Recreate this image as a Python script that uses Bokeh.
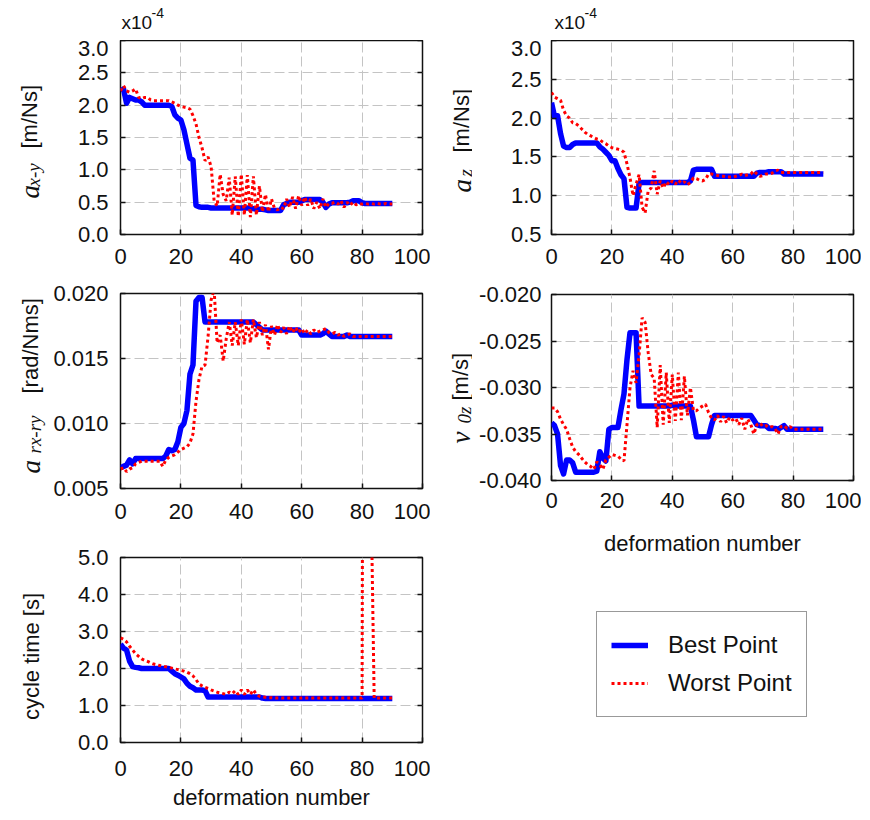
from math import pi
from bokeh.plotting import figure
from bokeh.layouts import column, row
from bokeh.models import (Range1d, FixedTicker, LinearAxis, Label, Legend, LegendItem,
                          NumeralTickFormatter, CustomJSTickFormatter)
from bokeh.embed import file_html
from bokeh.resources import INLINE

# ---------------- data ----------------
deformation = list(range(91))

# a_x-y  (x 1e-4 m/Ns)
best_axy = [2.22, 2.25, 2.03, 2.12, 2.10, 2.08, 2.08, 2.05, 2.00, 2.00,
            2.00, 2.00, 2.00, 2.00, 2.00, 2.00, 2.00, 1.98, 1.85, 1.80,
            1.77, 1.62, 1.40, 1.18, 1.15, 0.45, 0.43, 0.42, 0.42, 0.42,
            0.41, 0.41, 0.41, 0.41, 0.41, 0.41, 0.41, 0.41, 0.41, 0.41,
            0.41, 0.41, 0.41, 0.41, 0.40, 0.39, 0.39, 0.39, 0.38, 0.37,
            0.37, 0.37, 0.37, 0.37, 0.46, 0.48, 0.50, 0.50, 0.50, 0.50,
            0.52, 0.54, 0.54, 0.54, 0.54, 0.54, 0.54, 0.50, 0.42, 0.47,
            0.49, 0.49, 0.49, 0.49, 0.49, 0.49, 0.50, 0.52, 0.52, 0.52,
            0.49, 0.48, 0.48, 0.48, 0.48, 0.48, 0.48, 0.48, 0.48, 0.48, 0.48]
worst_axy = [2.22, 2.30, 2.22, 2.20, 2.22, 2.25, 2.12, 2.10, 2.12, 2.12,
             2.08, 2.07, 2.07, 2.07, 2.07, 2.07, 2.07, 2.05, 2.03, 2.00,
             1.98, 1.97, 1.96, 1.94, 1.84, 1.71, 1.50, 1.34, 1.14, 1.20,
             1.05, 0.52, 0.44, 0.93, 0.62, 0.52, 0.88, 0.30, 0.90, 0.28,
             0.93, 0.30, 0.92, 0.27, 0.90, 0.30, 0.75, 0.35, 0.62, 0.35,
             0.55, 0.40, 0.38, 0.42, 0.40, 0.55, 0.42, 0.58, 0.40, 0.60,
             0.45, 0.58, 0.45, 0.55, 0.40, 0.50, 0.40, 0.55, 0.42, 0.48,
             0.48, 0.50, 0.47, 0.52, 0.42, 0.50, 0.45, 0.50, 0.46, 0.48,
             0.47, 0.48, 0.47, 0.48, 0.47, 0.48, 0.47, 0.47, 0.48, 0.47, 0.47]

# a_z  (x 1e-4 m/Ns)
best_az = [2.20, 2.02, 2.03, 1.80, 1.64, 1.62, 1.62, 1.66, 1.68, 1.68,
           1.68, 1.68, 1.68, 1.68, 1.68, 1.68, 1.63, 1.60, 1.56, 1.52,
           1.45, 1.45, 1.35, 1.27, 1.22, 0.85, 0.84, 0.84, 0.84, 1.16,
           1.17, 1.17, 1.17, 1.17, 1.17, 1.17, 1.17, 1.17, 1.17, 1.17,
           1.17, 1.17, 1.17, 1.17, 1.17, 1.17, 1.19, 1.33, 1.34, 1.34,
           1.34, 1.34, 1.34, 1.34, 1.25, 1.25, 1.25, 1.25, 1.25, 1.25,
           1.25, 1.25, 1.25, 1.25, 1.25, 1.25, 1.25, 1.25, 1.29, 1.30,
           1.30, 1.30, 1.31, 1.31, 1.31, 1.31, 1.31, 1.28, 1.28, 1.28,
           1.28, 1.28, 1.28, 1.28, 1.28, 1.28, 1.28, 1.28, 1.28, 1.28, 1.28]
worst_az = [2.33, 2.27, 2.25, 2.23, 2.10, 2.03, 2.00, 1.94, 1.93, 1.90,
            1.86, 1.82, 1.79, 1.77, 1.75, 1.73, 1.72, 1.69, 1.67, 1.64,
            1.62, 1.61, 1.60, 1.59, 1.56, 1.41, 1.23, 1.00, 1.15, 1.27,
            0.85, 0.78, 1.06, 1.10, 1.32, 1.02, 1.19, 1.10, 1.18, 1.14,
            1.19, 1.15, 1.20, 1.16, 1.18, 1.14, 1.17, 1.23, 1.22, 1.20,
            1.19, 1.21, 1.28, 1.28, 1.27, 1.26, 1.25, 1.25, 1.24, 1.24,
            1.24, 1.25, 1.26, 1.28, 1.26, 1.27, 1.28, 1.32, 1.28, 1.25,
            1.26, 1.28, 1.28, 1.29, 1.32, 1.33, 1.30, 1.30, 1.30, 1.30,
            1.30, 1.30, 1.30, 1.30, 1.30, 1.30, 1.30, 1.30, 1.30, 1.30, 1.30]

# a_rx-ry  (rad/Nms)
best_arx = [0.0066, 0.0067, 0.0068, 0.0072, 0.0069, 0.0073, 0.0073, 0.0073, 0.0073, 0.0073,
            0.0073, 0.0073, 0.0073, 0.0073, 0.0073, 0.0075, 0.0080, 0.0079, 0.0080, 0.0086,
            0.0097, 0.0100, 0.0110, 0.0138, 0.0145, 0.0194, 0.0197, 0.0197, 0.0178, 0.0178,
            0.0178, 0.0178, 0.0178, 0.0178, 0.0178, 0.0178, 0.0178, 0.0178, 0.0178, 0.0178,
            0.0178, 0.0178, 0.0178, 0.0178, 0.0178, 0.0176, 0.0174, 0.0172, 0.0172, 0.0172,
            0.0172, 0.0172, 0.0172, 0.0172, 0.0172, 0.0172, 0.0172, 0.0172, 0.0172, 0.0172,
            0.0168, 0.0168, 0.0168, 0.0168, 0.0168, 0.0168, 0.0168, 0.0169, 0.0171, 0.0169,
            0.0167, 0.0167, 0.0167, 0.0167, 0.0167, 0.0168, 0.0167, 0.0167, 0.0167, 0.0167,
            0.0167, 0.0167, 0.0167, 0.0167, 0.0167, 0.0167, 0.0167, 0.0167, 0.0167, 0.0167, 0.0167]
worst_arx = [0.0065, 0.0066, 0.0063, 0.0065, 0.0066, 0.0069, 0.0070, 0.0071, 0.0071, 0.0071,
             0.0071, 0.0071, 0.0071, 0.0071, 0.0067, 0.0072, 0.0074, 0.0075, 0.0076, 0.0078,
             0.0080, 0.0081, 0.0082, 0.0085, 0.0092, 0.0117, 0.0134, 0.0144, 0.0145, 0.0167,
             0.0195, 0.0203, 0.0162, 0.0168, 0.0148, 0.0165, 0.0178, 0.0160, 0.0178, 0.0160,
             0.0180, 0.0161, 0.0180, 0.0162, 0.0180, 0.0166, 0.0178, 0.0168, 0.0176, 0.0157,
             0.0175, 0.0168, 0.0176, 0.0170, 0.0174, 0.0169, 0.0175, 0.0170, 0.0174, 0.0170,
             0.0173, 0.0169, 0.0172, 0.0169, 0.0172, 0.0170, 0.0171, 0.0172, 0.0173, 0.0170,
             0.0169, 0.0170, 0.0168, 0.0169, 0.0167, 0.0168, 0.0169, 0.0167, 0.0167, 0.0167,
             0.0167, 0.0167, 0.0167, 0.0167, 0.0167, 0.0167, 0.0167, 0.0167, 0.0167, 0.0167, 0.0167]

# v_0z  (m/s)
best_v0z = [-0.0338, -0.0341, -0.0350, -0.0384, -0.0393, -0.0378, -0.0378, -0.0381, -0.0391, -0.0391,
            -0.0391, -0.0391, -0.0391, -0.0391, -0.0391, -0.0390, -0.0369, -0.0376, -0.0379, -0.0345,
            -0.0343, -0.0343, -0.0343, -0.0324, -0.0307, -0.0270, -0.0241, -0.0241, -0.0241, -0.0320,
            -0.0320, -0.0320, -0.0320, -0.0320, -0.0320, -0.0320, -0.0320, -0.0320, -0.0320, -0.0320,
            -0.0319, -0.0319, -0.0320, -0.0320, -0.0320, -0.0320, -0.0320, -0.0335, -0.0353, -0.0353,
            -0.0353, -0.0353, -0.0353, -0.0340, -0.0330, -0.0330, -0.0330, -0.0330, -0.0330, -0.0330,
            -0.0330, -0.0330, -0.0330, -0.0330, -0.0330, -0.0330, -0.0330, -0.0335, -0.0340, -0.0341,
            -0.0341, -0.0341, -0.0344, -0.0344, -0.0344, -0.0345, -0.0343, -0.0341, -0.0345, -0.0345,
            -0.0345, -0.0345, -0.0345, -0.0345, -0.0345, -0.0345, -0.0345, -0.0345, -0.0345, -0.0345, -0.0345]
worst_v0z = [-0.0322, -0.0322, -0.0326, -0.0334, -0.0340, -0.0345, -0.0355, -0.0364, -0.0369, -0.0372,
             -0.0376, -0.0380, -0.0383, -0.0385, -0.0388, -0.0380, -0.0383, -0.0388, -0.0378, -0.0375,
             -0.0372, -0.0373, -0.0374, -0.0377, -0.0379, -0.0340, -0.0300, -0.0282, -0.0295, -0.0265,
             -0.0225, -0.0230, -0.0262, -0.0286, -0.0290, -0.0343, -0.0276, -0.0340, -0.0284, -0.0338,
             -0.0286, -0.0336, -0.0284, -0.0335, -0.0288, -0.0330, -0.0300, -0.0325, -0.0325, -0.0322,
             -0.0320, -0.0318, -0.0327, -0.0333, -0.0335, -0.0330, -0.0337, -0.0331, -0.0338, -0.0332,
             -0.0335, -0.0333, -0.0340, -0.0333, -0.0345, -0.0334, -0.0340, -0.0350, -0.0340, -0.0338,
             -0.0342, -0.0341, -0.0343, -0.0342, -0.0344, -0.0350, -0.0342, -0.0341, -0.0344, -0.0342,
             -0.0345, -0.0345, -0.0345, -0.0345, -0.0345, -0.0345, -0.0345, -0.0345, -0.0345, -0.0345, -0.0345]

# cycle time (s)
best_cyc = [2.66, 2.55, 2.50, 2.20, 2.05, 2.03, 2.02, 2.00, 2.00, 2.00,
            2.00, 2.00, 2.00, 2.00, 2.00, 2.00, 2.00, 1.93, 1.86, 1.82,
            1.77, 1.72, 1.60, 1.52, 1.48, 1.42, 1.42, 1.42, 1.40, 1.23,
            1.23, 1.23, 1.23, 1.23, 1.23, 1.23, 1.23, 1.23, 1.23, 1.23,
            1.23, 1.23, 1.23, 1.23, 1.23, 1.23, 1.23, 1.20, 1.19, 1.19,
            1.19, 1.19, 1.19, 1.19, 1.19, 1.19, 1.19, 1.19, 1.19, 1.19,
            1.19, 1.19, 1.19, 1.19, 1.19, 1.19, 1.19, 1.19, 1.19, 1.19,
            1.19, 1.19, 1.19, 1.19, 1.19, 1.19, 1.19, 1.19, 1.19, 1.19,
            1.19, 1.19, 1.19, 1.19, 1.19, 1.19, 1.19, 1.19, 1.19, 1.19, 1.19]
worst_cyc = [2.83, 2.79, 2.72, 2.60, 2.50, 2.40, 2.33, 2.26, 2.22, 2.19,
             2.15, 2.12, 2.10, 2.08, 2.06, 2.05, 2.03, 2.01, 1.99, 1.97,
             1.95, 1.93, 1.90, 1.86, 1.80, 1.70, 1.58, 1.53, 1.49, 1.46,
             1.42, 1.39, 1.36, 1.34, 1.32, 1.30, 1.36, 1.32, 1.40, 1.30,
             1.42, 1.30, 1.42, 1.30, 1.42, 1.30, 1.25, 1.23, 1.22, 1.21,
             1.21, 1.20, 1.20, 1.20, 1.20, 1.20, 1.20, 1.20, 1.20, 1.20,
             1.20, 1.20, 1.20, 1.20, 1.20, 1.20, 1.20, 1.20, 1.20, 1.20,
             1.20, 1.20, 1.20, 1.20, 1.20, 1.20, 1.20, 1.20, 1.20, 1.20,
             1.20, 40.0, 40.0, 6.5, 1.20, 1.20, 1.20, 1.20, 1.20, 1.20, 1.20]

x_ticks = [0, 20, 40, 60, 80, 100]
axy_ticks = [0.0, 0.5, 1.0, 1.5, 2.0, 2.5, 3.0]
az_ticks = [0.5, 1.0, 1.5, 2.0, 2.5, 3.0]
arx_ticks = [0.005, 0.010, 0.015, 0.020]
v0z_ticks = [-0.040, -0.035, -0.030, -0.025, -0.020]
cyc_ticks = [0.0, 1.0, 2.0, 3.0, 4.0, 5.0]

series_labels = ["Best Point", "Worst Point"]

# ---------------- styling helpers ----------------
SANS = "Liberation Sans"
SERIF = "Liberation Serif"
TICK_FS = "22px"
INK = "#111111"
BLUE = "#0000ff"
RED = "#ff0000"

# left/right borders shared by every plot of a column (Bokeh aligns them)
L_LEFT, L_RIGHT = 72, 8
R_LEFT, R_RIGHT = 79, 8


def blank(width, height, left=0, right=0):
    """A figure without axes, used to hold text labels in its frame."""
    f = figure(width=width, height=height, output_backend="svg", toolbar_location=None,
               x_axis_type=None, y_axis_type=None, x_range=Range1d(0, 1), y_range=Range1d(0, 1),
               min_border_left=left, min_border_right=right, min_border_top=0, min_border_bottom=0)
    f.outline_line_color = None
    return f


def make_panel(width, height, borders, yr, yticks, yfmt, best, worst, x_standoff, y_standoff):
    left, right, top, bottom = borders
    p = figure(width=width, height=height, output_backend="svg", toolbar_location=None,
               x_range=Range1d(0, 100), y_range=Range1d(*yr),
               min_border_left=left, min_border_right=right,
               min_border_top=top, min_border_bottom=bottom)
    p.outline_line_color = INK
    p.outline_line_width = 1.5
    p.outline_line_alpha = 1.0

    p.xaxis.ticker = FixedTicker(ticks=x_ticks)
    p.yaxis.ticker = FixedTicker(ticks=yticks)
    p.xaxis.formatter = NumeralTickFormatter(format="0")
    p.yaxis.formatter = NumeralTickFormatter(format=yfmt)
    for ax, st in ((p.xaxis, x_standoff), (p.yaxis, y_standoff)):
        ax.major_label_text_font = SANS
        ax.major_label_text_font_size = TICK_FS
        ax.major_label_text_color = INK
        ax.major_label_standoff = st
        ax.major_tick_in = 5
        ax.major_tick_out = 0
        ax.major_tick_line_color = INK
        ax.major_tick_line_width = 1.5
        ax.minor_tick_line_color = None
        ax.axis_line_color = None
        ax.axis_label_text_font = SANS
        ax.axis_label_text_font_size = "22px"
        ax.axis_label_text_font_style = "normal"
        ax.axis_label_text_color = INK

    rax = LinearAxis(ticker=FixedTicker(ticks=yticks),
                     formatter=CustomJSTickFormatter(code="return ''"),
                     major_label_text_font_size="1px", major_label_standoff=0,
                     major_tick_in=5, major_tick_out=0,
                     major_tick_line_color=INK, major_tick_line_width=1.5,
                     minor_tick_line_color=None, axis_line_color=None)
    p.add_layout(rax, "right")

    p.xgrid.ticker = FixedTicker(ticks=x_ticks)
    p.ygrid.ticker = FixedTicker(ticks=yticks)
    for g in (p.xgrid, p.ygrid):
        g.grid_line_color = "#c4c4c4"
        g.grid_line_width = 1
        g.grid_line_dash = "10 4"

    p.line(deformation, best, line_color=BLUE, line_width=5.5, line_join="round")
    p.line(deformation, worst, line_color=RED, line_width=3, line_dash="3 3")
    return p


def lab(p, text, x, y, size, font=SANS, style="normal", angle=0.0, align="left",
        baseline="alphabetic"):
    p.add_layout(Label(x=x, y=y, x_units="screen", y_units="screen", text=text,
                       text_font=font, text_font_size=f"{size}px", text_font_style=style,
                       angle=angle, text_align=align, text_baseline=baseline,
                       text_color=INK))


def ylab(p, main, sub, unit, x, y_main, y_sub, y_unit):
    lab(p, main, x, y_main, 27, font=SERIF, style="italic", angle=pi / 2)
    lab(p, sub, x + 4, y_sub, 19, font=SERIF, style="italic", angle=pi / 2)
    lab(p, unit, x, y_unit, 22, angle=pi / 2)


# ---------------- left column (canvas x 0..430) ----------------
stripL = blank(48, 804)          # canvas x 0..48, y 0..804
ylab(stripL, "a", "x-y", "[m/Ns]", 29, 804 - 198, 804 - 186, 804 - 148)
ylab(stripL, "a", "rx-ry", "[rad/Nms]", 30, 804 - 473, 804 - 453, 804 - 393)
lab(stripL, "cycle time [s]", 31, 804 - 656, 22, angle=pi / 2, align="center")

topL = blank(382, 40, L_LEFT, L_RIGHT)   # frame x 120..422, y 0..40
lab(topL, "x10", 1, 18, 19)
lab(topL, "-4", 31, 28, 14)

p1 = make_panel(382, 238, (L_LEFT, L_RIGHT, 0, 44), (0, 3), axy_ticks, "0.0",
                best_axy, worst_axy, 14, 12)
p3 = make_panel(382, 258, (L_LEFT, L_RIGHT, 15, 48), (0.005, 0.020), arx_ticks, "0.000",
                best_arx, worst_arx, 15, 12)
p5 = make_panel(382, 276, (L_LEFT, L_RIGHT, 21, 60), (0, 5), cyc_ticks, "0.0",
                best_cyc, worst_cyc, 18, 12)
p5.xaxis.axis_label = "deformation number"
p5.xaxis.axis_label_standoff = 6

# ---------------- right column (canvas x 430..861) ----------------
stripR = blank(42, 560)          # canvas x 430..472, y 0..560
ylab(stripR, "a", "z", "[m/Ns]", 31, 560 - 192, 560 - 176, 560 - 152)
ylab(stripR, "v", "0z", "[m/s]", 30, 560 - 443, 560 - 423, 560 - 400)

topR = blank(389, 40, R_LEFT, R_RIGHT)   # frame x 551..853
lab(topR, "x10", 3, 18, 19)
lab(topR, "-4", 33, 28, 14)

p2 = make_panel(389, 238, (R_LEFT, R_RIGHT, 0, 44), (0.5, 3), az_ticks, "0.0",
                best_az, worst_az, 14, 10)
p4 = make_panel(389, 280, (R_LEFT, R_RIGHT, 16, 70), (-0.040, -0.020), v0z_ticks, "0.000",
                best_v0z, worst_v0z, 12, 10)
p4.xaxis.axis_label = "deformation number"
p4.xaxis.axis_label_standoff = 20

# legend panel (frame x 551..853, y 558..758); the legend draws its own box
p6 = figure(width=389, height=200, output_backend="svg", toolbar_location=None,
            x_axis_type=None, y_axis_type=None, x_range=Range1d(200, 300), y_range=Range1d(0, 1),
            min_border_left=R_LEFT, min_border_right=R_RIGHT, min_border_top=0, min_border_bottom=0)
p6.outline_line_color = None
rb = p6.line(deformation, best_cyc, line_color=BLUE, line_width=5.5)
rw = p6.line(deformation, worst_cyc, line_color=RED, line_width=3, line_dash="3 3")
leg = Legend(items=[LegendItem(label=series_labels[0], renderers=[rb]),
                    LegendItem(label=series_labels[1], renderers=[rw])],
             location=(45, 41), padding=14, spacing=0, margin=0,
             glyph_width=37, glyph_height=38, label_height=38, label_standoff=20,
             label_text_font=SANS, label_text_font_size="24px", label_text_color=INK,
             border_line_color="#333333", border_line_width=1.5,
             background_fill_color="white", background_fill_alpha=1.0)
p6.add_layout(leg)

layout = row(stripL, column(topL, p1, p3, p5), stripR, column(topR, p2, p4, p6))

with open("out.html", "w") as f:
    f.write(file_html(layout, INLINE))
